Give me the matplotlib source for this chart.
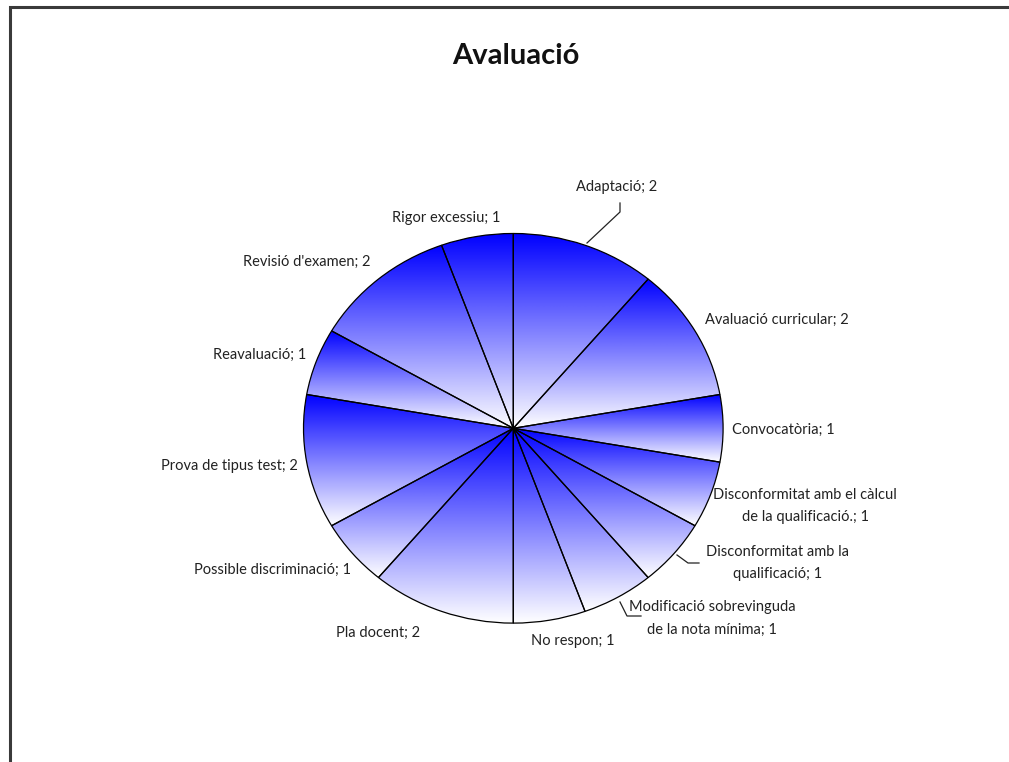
import numpy as np
import matplotlib
matplotlib.use("Agg")
import matplotlib.pyplot as plt
from matplotlib.colors import LinearSegmentedColormap

# ---- data ----
categories = ["Adaptació", "Avaluació curricular", "Convocatòria",
              "Disconformitat amb el càlcul de la qualificació.",
              "Disconformitat amb la qualificació",
              "Modificació sobrevinguda de la nota mínima",
              "No respon", "Pla docent", "Possible discriminació",
              "Prova de tipus test", "Reavaluació", "Revisió d'examen",
              "Rigor excessiu"]
values = [2, 2, 1, 1, 1, 1, 1, 2, 1, 2, 1, 2, 1]
label_texts = ["Adaptació; 2", "Avaluació curricular; 2", "Convocatòria; 1",
               "Disconformitat amb el càlcul\nde la qualificació.; 1",
               "Disconformitat amb la\nqualificació; 1",
               "Modificació sobrevinguda\nde la nota mínima; 1",
               "No respon; 1", "Pla docent; 2", "Possible discriminació; 1",
               "Prova de tipus test; 2", "Reavaluació; 1", "Revisió d'examen; 2",
               "Rigor excessiu; 1"]
title = "Avaluació"

# ---- layout (pixels) ----
W, H = 1009, 762
cx, cy, rx, ry = 513.3, 428.3, 210.0, 195.0
label_pos = [(617, 187), (777, 320), (783, 430), (805, 506), (778, 563),
             (712, 618), (573, 641), (378, 633), (273, 570), (229, 466),
             (260, 355), (307, 262), (446, 218)]
leaders = {0: [(620, 203), (620, 212), (587, 243)],
           4: [(699, 563), (688, 563), (677, 555)],
           5: [(641, 616), (627, 616), (620, 602)]}

fig = plt.figure(figsize=(W / 100, H / 100), dpi=100)
fig.patch.set_facecolor("white")

ax = fig.add_axes([(cx - rx) / W, (H - cy - ry) / H, 2 * rx / W, 2 * ry / H])
wedges, _ = ax.pie(values, startangle=90, counterclock=False, radius=1,
                   wedgeprops=dict(facecolor="none", edgecolor="black",
                                   linewidth=0.9))
ax.set_aspect("auto")
ax.axis("off")

cmap = LinearSegmentedColormap.from_list("bw", ["#0000FF", "#FFFFFF"])
grad = np.linspace(0, 1, 256).reshape(-1, 1)
for w in wedges:
    w.set_zorder(3)
    th = np.radians(np.linspace(w.theta1, w.theta2, 200))
    ys = np.concatenate([[0.0], np.sin(th)])
    ymin, ymax = ys.min(), ys.max()
    im = ax.imshow(grad, cmap=cmap, aspect="auto", origin="upper",
                   extent=[-1, 1, ymin, ymax], zorder=2,
                   interpolation="bilinear")
    im.set_clip_path(w)
ax.set_xlim(-1.001, 1.001)
ax.set_ylim(-1.001, 1.001)

# overlay axes in pixel coordinates for text, leaders, frame
ov = fig.add_axes([0, 0, 1, 1], facecolor="none")
ov.set_xlim(0, W)
ov.set_ylim(H, 0)
ov.axis("off")

ov.plot([10, 10, W + 5], [H + 5, 7, 7], color="#3a3a3a", linewidth=2.2,
        solid_capstyle="butt", solid_joinstyle="miter")

ov.text(516, 56, title, ha="center", va="center", fontsize=21,
        fontweight="bold", family="Lato", color="#111111")

for i, (txt, (x, y)) in enumerate(zip(label_texts, label_pos)):
    ov.text(x, y, txt, ha="center", va="center", fontsize=10.5,
            family="Lato", color="#222222", linespacing=1.8)

for pts in leaders.values():
    xs, ys = zip(*pts)
    ov.plot(xs, ys, color="#222222", linewidth=0.9)

fig.savefig("out.png", dpi=100, facecolor="white")
